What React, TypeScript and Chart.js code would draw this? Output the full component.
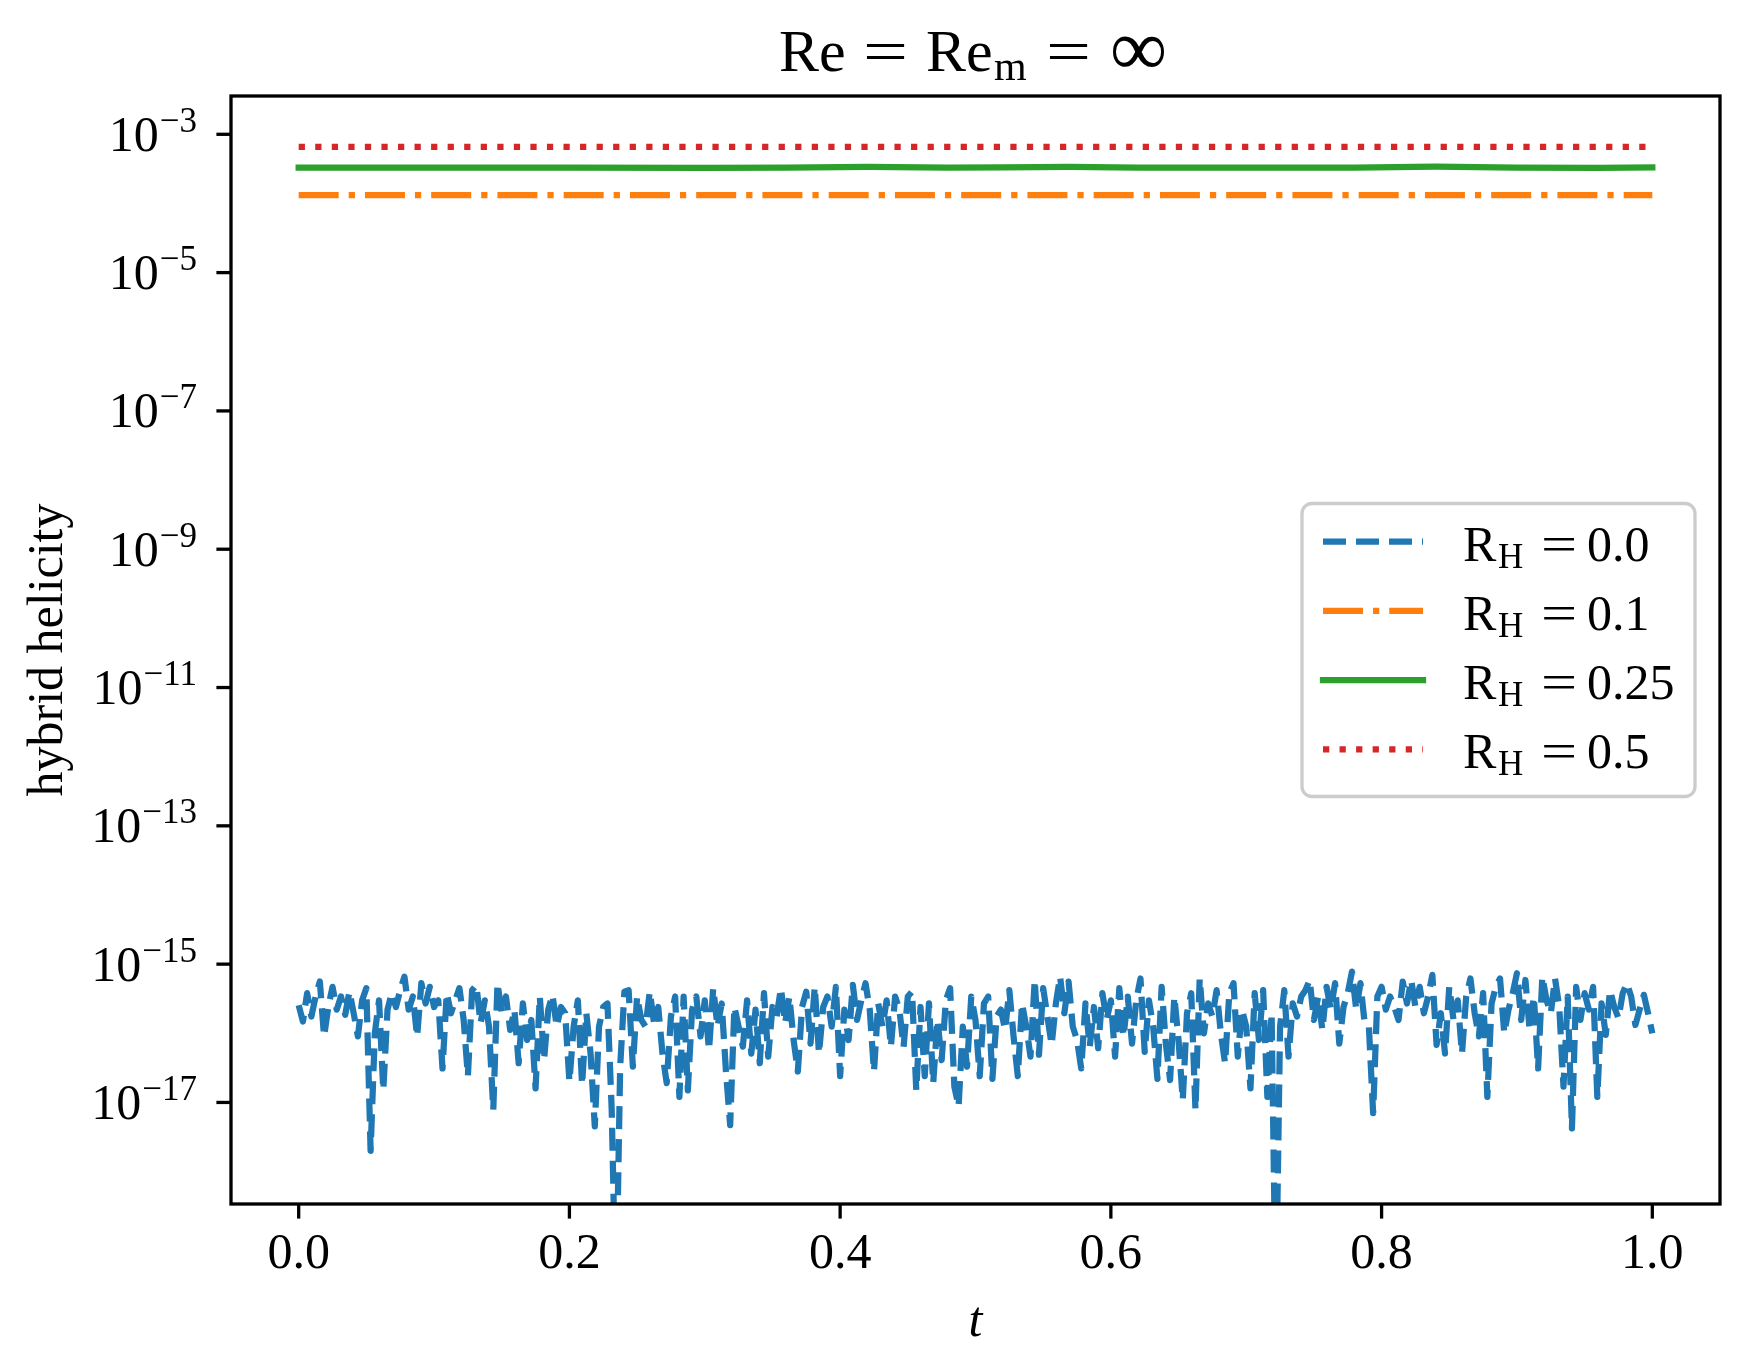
import React, { useEffect, useRef } from "react";
import { Chart, registerables } from "chart.js";

Chart.register(...registerables);

// ---------------- data ----------------
const SERIES_LABELS = ["0.0", "0.1", "0.25", "0.5"];
const SERIES_COLORS = ["#1f77b4", "#ff7f0e", "#2ca02c", "#d62728"];

// R_H = 0.0 : hybrid helicity sampled uniformly over t in [0, 1]
const blueValues = [
  2.55e-16, 1.48e-16, 3.8e-16, 1.75e-16, 3.4e-16, 5.6e-16, 9.0e-17, 2.4e-16, 4.7e-16, 2.2e-16,
  3.4e-16, 1.85e-16, 4.0e-16, 1.95e-16, 9.0e-17, 3.0e-16, 4.5e-16, 2.0e-18, 1.0e-16, 3.0e-16,
  1.5e-17, 2.2e-16, 3.8e-16, 2.4e-16, 4.2e-16, 6.6e-16, 2.2e-16, 3.4e-16, 9.0e-17, 5.3e-16,
  2.7e-16, 4.7e-16, 2.4e-16, 3.0e-16, 3.1e-17, 3.8e-16, 1.95e-16, 3.0e-16, 4.5e-16, 1.56e-16,
  2.4e-17, 4.2e-16, 5.0e-16, 1.4e-16, 3.0e-16, 1.25e-16, 7.8e-18, 5.3e-16, 1.95e-16, 3.4e-16,
  1.12e-16, 2.2e-16, 3.7e-17, 2.7e-16, 8.0e-17, 1.56e-16, 1.6e-17, 3.4e-16, 4.1e-17, 2.2e-16,
  3.6e-16, 1.25e-16, 2.4e-16, 1.95e-16, 2.0e-17, 1.25e-16, 3.0e-16, 1.8e-17, 1.95e-16, 5.1e-17,
  4.5e-18, 1.25e-16, 2.4e-16, 2.7e-16, 7.8e-18, 1e-20, 3.3e-17, 4.0e-16, 4.2e-16, 3.3e-17,
  3.4e-16, 1.56e-16, 1.25e-16, 4.0e-16, 1.4e-16, 2.4e-16, 5.1e-17, 1.9e-17, 1.75e-16, 3.4e-16,
  1.2e-17, 3.4e-16, 1.5e-17, 2.2e-16, 3.4e-16, 9.0e-17, 3.0e-16, 5.7e-17, 4.5e-16, 1.25e-16,
  2.7e-16, 2.9e-17, 4.7e-18, 2.4e-16, 1.25e-16, 6.4e-17, 3.0e-16, 5.1e-17, 2.2e-16, 3.7e-17,
  3.8e-16, 4.6e-17, 2.4e-16, 1.75e-16, 4.5e-16, 1.4e-16, 3.4e-16, 8.0e-17, 2.8e-17, 2.4e-16,
  4.0e-16, 7.1e-17, 4.7e-16, 5.1e-17, 2.4e-16, 3.4e-16, 1.25e-16, 4.7e-16, 2.4e-17, 2.2e-16,
  8.0e-17, 5.0e-16, 1.56e-16, 3.0e-16, 5.3e-16, 2.2e-16, 2.8e-17, 2.7e-16, 1.25e-16, 3.0e-16,
  6.4e-17, 3.4e-16, 2.2e-16, 6.4e-17, 3.4e-16, 4.0e-16, 1.5e-17, 2.4e-16, 2.4e-17, 2.7e-16,
  1.9e-17, 1.56e-16, 4.1e-17, 3.0e-16, 4.5e-16, 1.7e-17, 8.7e-18, 1.25e-16, 3.3e-17, 3.4e-16,
  1.56e-16, 2.4e-17, 2.7e-16, 3.4e-16, 2.2e-17, 1.75e-16, 2.2e-16, 1.12e-16, 4.2e-16, 9.0e-17,
  2.4e-17, 2.7e-16, 1.25e-16, 4.6e-17, 5.9e-16, 4.9e-17, 4.5e-16, 1.75e-16, 6.8e-17, 2.7e-16,
  6.6e-16, 1.95e-16, 5.6e-16, 1.25e-16, 8.0e-17, 3.1e-17, 2.7e-16, 6.4e-17, 2.4e-16, 6.1e-17,
  3.8e-16, 1.56e-16, 3.0e-16, 4.6e-17, 4.5e-16, 9.0e-17, 3.4e-16, 7.1e-17, 3.0e-16, 6.2e-16,
  5.4e-17, 3.0e-16, 1.25e-16, 2.2e-17, 4.7e-16, 7.1e-17, 2.1e-17, 3.4e-16, 8.0e-17, 1.08e-17,
  1.95e-16, 3.8e-16, 7.8e-18, 6.2e-16, 1.0e-16, 2.7e-16, 1.75e-16, 4.2e-16, 1.0e-16, 3.7e-17,
  3.8e-16, 5.3e-16, 4.6e-17, 2.2e-16, 1.25e-16, 1.6e-17, 3.8e-16, 8.0e-17, 4.2e-16, 1.2e-17,
  1.95e-16, 1e-20, 1.25e-16, 4.2e-16, 4.6e-17, 2.7e-16, 1.75e-16, 3.4e-16, 4.2e-16, 5.9e-16,
  1.56e-16, 3.4e-16, 1.12e-16, 4.7e-16, 2.2e-16, 5.3e-16, 7.1e-17, 2.4e-16, 3.8e-16, 7.8e-16,
  2.2e-16, 5.3e-16, 1.4e-16, 1.25e-16, 7.0e-18, 3.4e-16, 4.7e-16, 2.2e-16, 3.4e-16, 2.4e-16,
  1.56e-16, 5.6e-16, 2.7e-16, 5.9e-16, 2.4e-16, 4.7e-16, 1.95e-16, 3.4e-16, 7.0e-16, 6.8e-17,
  1.95e-16, 5.1e-17, 4.7e-16, 1.56e-16, 3.0e-16, 5.1e-17, 3.4e-16, 6.2e-16, 1.95e-16, 9.0e-17,
  3.8e-16, 1.2e-17, 2.7e-16, 4.7e-16, 6.2e-16, 1.0e-16, 2.2e-16, 3.8e-16, 7.4e-16, 1.56e-16,
  5.9e-16, 1.12e-16, 3.4e-16, 3.1e-17, 6.6e-16, 3.0e-16, 1.95e-16, 6.2e-16, 2.4e-16, 1.7e-17,
  3.4e-16, 4.2e-18, 4.7e-16, 1.56e-16, 3.8e-16, 2.2e-16, 4.7e-16, 1.2e-17, 2.7e-16, 9.5e-17,
  4.2e-16, 2.4e-16, 1.65e-16, 3.8e-16, 5.3e-16, 3.4e-16, 1.32e-16, 2.2e-16, 3.6e-16, 1.95e-16,
  1.0e-16,
];
const T_START = 0;
const T_END = 1;

const orangeTimes = [0, 1];
const orangeValues = [1.32e-4, 1.32e-4];

const greenTimes = [0, 0.1, 0.2, 0.3, 0.36, 0.42, 0.48, 0.52, 0.57, 0.62, 0.7, 0.78, 0.84, 0.9, 0.96, 1.0];
const greenValues = [
  3.31e-4, 3.3e-4, 3.29e-4, 3.28e-4, 3.3e-4, 3.38e-4, 3.31e-4, 3.32e-4,
  3.39e-4, 3.31e-4, 3.29e-4, 3.3e-4, 3.4e-4, 3.3e-4, 3.27e-4, 3.32e-4,
];

const redTimes = [0, 1];
const redValues = [6.6e-4, 6.6e-4];

const xTicks = [0, 0.2, 0.4, 0.6, 0.8, 1.0];
const xTickLabels = ["0.0", "0.2", "0.4", "0.6", "0.8", "1.0"];
const yTicks = [1e-3, 1e-5, 1e-7, 1e-9, 1e-11, 1e-13, 1e-15, 1e-17];
const yTickExponents = ["\u22123", "\u22125", "\u22127", "\u22129", "\u221211", "\u221213", "\u221215", "\u221217"];

const X_MIN = -0.05;
const X_MAX = 1.05;
const Y_MIN = 3.4e-19;
const Y_MAX = 3.58e-3;

// ---------------- layout / style ----------------
const W = 1749;
const H = 1369;
const AREA = { left: 231, right: 1720, top: 96, bottom: 1204 };
const FONT = '"Liberation Serif", "DejaVu Serif", serif';
const LW = 6.25;
const SPINE_W = 3.3;
const TICK_LEN = 14.6;

function drawText(ctx: CanvasRenderingContext2D, text: string, x: number, y: number, size: number, opts: any = {}) {
  ctx.save();
  ctx.font = `${opts.italic ? "italic " : ""}${size}px ${FONT}`;
  ctx.fillStyle = "#000";
  ctx.textAlign = opts.align || "left";
  ctx.textBaseline = "alphabetic";
  ctx.translate(x, y);
  if (opts.rotate) ctx.rotate(opts.rotate);
  if (opts.sx) ctx.scale(opts.sx, 1);
  ctx.fillText(text, 0, 0);
  ctx.restore();
}

const overlayPlugin = {
  id: "mplOverlay",
  afterDraw(chart: any) {
    const { ctx, chartArea, scales } = chart;
    const { left, right, top, bottom } = chartArea;
    const xs = scales.x;
    const ys = scales.y;
    ctx.save();

    // frame
    ctx.setLineDash([]);
    ctx.strokeStyle = "#000";
    ctx.lineWidth = SPINE_W;
    ctx.lineJoin = "miter";
    ctx.strokeRect(left, top, right - left, bottom - top);

    // x ticks and labels
    ctx.lineCap = "butt";
    xTicks.forEach((v, i) => {
      const px = xs.getPixelForValue(v);
      ctx.beginPath();
      ctx.moveTo(px, bottom);
      ctx.lineTo(px, bottom + TICK_LEN);
      ctx.stroke();
      drawText(ctx, xTickLabels[i], px, bottom + 64, 50, { align: "center" });
    });

    // y ticks and labels
    yTicks.forEach((v, i) => {
      const py = ys.getPixelForValue(v);
      ctx.beginPath();
      ctx.moveTo(left - TICK_LEN, py);
      ctx.lineTo(left, py);
      ctx.stroke();
      const rx = left - 34;
      const base = py + 16.5;
      ctx.font = `35px ${FONT}`;
      const supW = ctx.measureText(yTickExponents[i]).width;
      drawText(ctx, yTickExponents[i], rx, base - 19, 35, { align: "right" });
      drawText(ctx, "10", rx - supW - 1, base, 50, { align: "right" });
    });

    // axis labels
    const cx = (left + right) / 2;
    const cy = (top + bottom) / 2;
    drawText(ctx, "t", cx, bottom + 132, 50, { align: "center", italic: true });
    drawText(ctx, "hybrid helicity", 62, cy, 50, { align: "center", rotate: -Math.PI / 2 });

    // title: Re = Re_m = ∞
    const tb = top - 25;
    drawText(ctx, "Re", cx - 196.5, tb, 60);
    drawText(ctx, "=", cx - 112.5, tb, 60, { sx: 1.33 });
    drawText(ctx, "Re", cx - 49.5, tb, 60);
    drawText(ctx, "m", cx + 18.5, tb + 9, 42);
    drawText(ctx, "=", cx + 70.5, tb, 60, { sx: 1.33 });
    drawText(ctx, "\u221E", cx + 134.5, tb + 4, 80);

    // legend (center right)
    const boxW = 393;
    const boxH = 293;
    const bx = right - 25 - boxW;
    const by = cy - boxH / 2;
    ctx.beginPath();
    if (ctx.roundRect) ctx.roundRect(bx, by, boxW, boxH, 10);
    else ctx.rect(bx, by, boxW, boxH);
    ctx.fillStyle = "rgba(255,255,255,0.8)";
    ctx.fill();
    ctx.strokeStyle = "#cccccc";
    ctx.lineWidth = SPINE_W;
    ctx.stroke();

    chart.data.datasets.forEach((ds: any, k: number) => {
      const ly = by + 38 + 69.3 * k;
      const dash = ds.borderDash || [];
      ctx.save();
      ctx.strokeStyle = ds.borderColor;
      ctx.lineWidth = ds.borderWidth;
      ctx.setLineDash(dash);
      ctx.lineCap = dash.length ? "butt" : "square";
      ctx.beginPath();
      ctx.moveTo(bx + 21, ly);
      ctx.lineTo(bx + 121, ly);
      ctx.stroke();
      ctx.restore();
      const tx = bx + 161;
      drawText(ctx, "R", tx, ly + 19, 50);
      drawText(ctx, "H", tx + 35, ly + 26, 35);
      drawText(ctx, "=", tx + 78, ly + 19, 50, { sx: 1.28 });
      drawText(ctx, SERIES_LABELS[k], tx + 124, ly + 19, 50);
    });

    ctx.restore();
  },
};

export default function App() {
  const ref = useRef<HTMLCanvasElement | null>(null);

  useEffect(() => {
    if (!ref.current) return;
    const n = blueValues.length;
    const bluePts = blueValues.map((v, i) => ({ x: T_START + ((T_END - T_START) * i) / (n - 1), y: v }));
    const orangePts = orangeValues.map((v, i) => ({ x: orangeTimes[i], y: v }));
    const greenPts = greenValues.map((v, i) => ({ x: greenTimes[i], y: v }));
    const redPts = redValues.map((v, i) => ({ x: redTimes[i], y: v }));

    const common = { pointRadius: 0, pointHoverRadius: 0, tension: 0, borderWidth: LW, fill: false, clip: 0 };

    const chart = new Chart(ref.current, {
      type: "line",
      data: {
        datasets: [
          { ...common, label: SERIES_LABELS[0], data: bluePts, borderColor: SERIES_COLORS[0], borderDash: [23, 10], borderCapStyle: "butt", borderJoinStyle: "round" },
          { ...common, label: SERIES_LABELS[1], data: orangePts, borderColor: SERIES_COLORS[1], borderDash: [40, 10, 6.25, 10], borderCapStyle: "butt" },
          { ...common, label: SERIES_LABELS[2], data: greenPts, borderColor: SERIES_COLORS[2], borderCapStyle: "square", borderJoinStyle: "round" },
          { ...common, label: SERIES_LABELS[3], data: redPts, borderColor: SERIES_COLORS[3], borderDash: [6.25, 10.3], borderCapStyle: "butt" },
        ],
      } as any,
      options: {
        responsive: false,
        animation: false,
        events: [],
        layout: { padding: { top: AREA.top, right: W - AREA.right, bottom: 0, left: 0 } },
        plugins: { legend: { display: false }, title: { display: false }, tooltip: { enabled: false } },
        scales: {
          x: {
            type: "linear",
            min: X_MIN,
            max: X_MAX,
            ticks: { display: false },
            grid: { display: false },
            border: { display: false },
            afterBuildTicks: (s: any) => {
              s.ticks = xTicks.map((v) => ({ value: v }));
            },
            afterFit: (s: any) => {
              s.height = H - AREA.bottom;
            },
          },
          y: {
            type: "logarithmic",
            min: Y_MIN,
            max: Y_MAX,
            ticks: { display: false },
            grid: { display: false },
            border: { display: false },
            afterBuildTicks: (s: any) => {
              s.ticks = yTicks.map((v) => ({ value: v }));
            },
            afterFit: (s: any) => {
              s.width = AREA.left;
            },
          },
        },
      } as any,
      plugins: [overlayPlugin],
    });
    return () => chart.destroy();
  }, []);

  return (
    <div style={{ position: "fixed", left: 0, top: 0, width: W, height: H, background: "#fff" }}>
      <canvas ref={ref} width={W} height={H} style={{ display: "block", width: W, height: H }} />
    </div>
  );
}
